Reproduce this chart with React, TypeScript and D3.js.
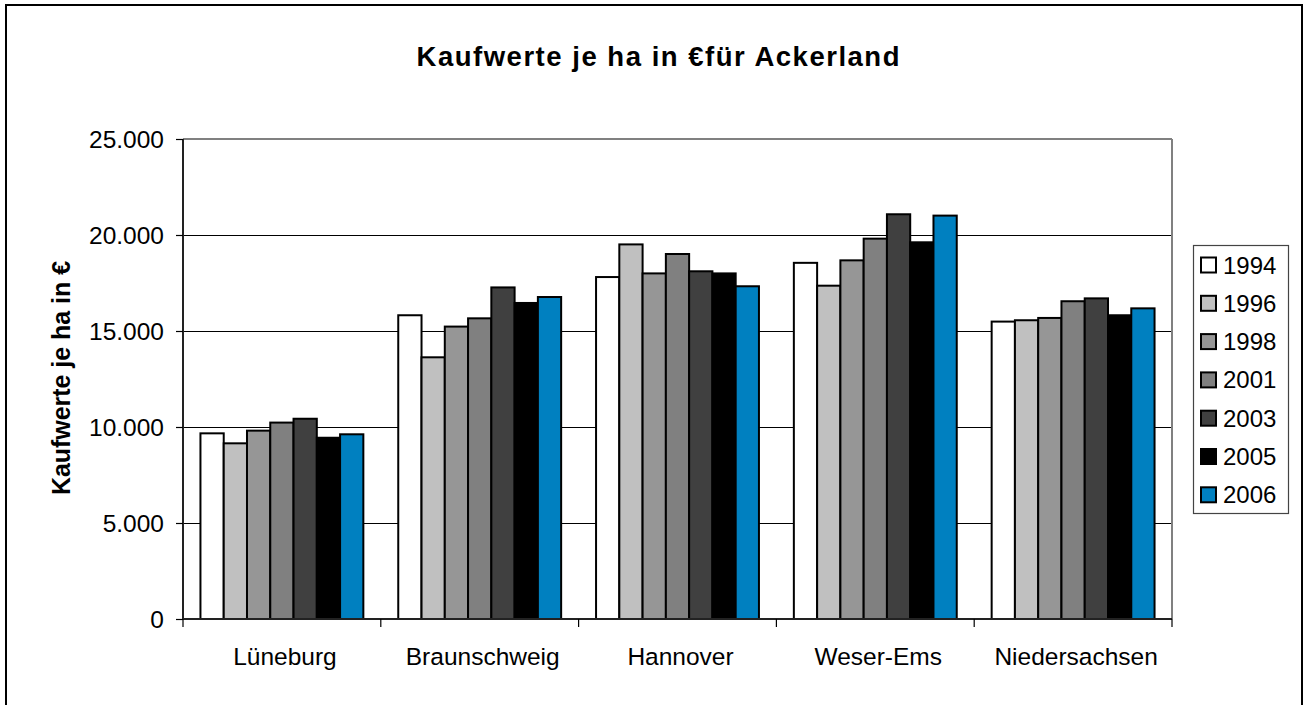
import React from 'react';
import * as d3 from 'd3';

const categories = ['Lüneburg', 'Braunschweig', 'Hannover', 'Weser-Ems', 'Niedersachsen'];
const years = ['1994', '1996', '1998', '2001', '2003', '2005', '2006'];

const values1994 = [9670, 15820, 17810, 18550, 15490];
const values1996 = [9150, 13630, 19510, 17360, 15560];
const values1998 = [9810, 15230, 18000, 18680, 15680];
const values2001 = [10230, 15660, 19010, 19810, 16550];
const values2003 = [10430, 17270, 18110, 21080, 16700];
const values2005 = [9440, 16460, 18000, 19620, 15820];
const values2006 = [9620, 16770, 17330, 21010, 16180];

const yTicks = [0, 5000, 10000, 15000, 20000, 25000];
const colors = ['#FFFFFF', '#C0C0C0', '#969696', '#808080', '#404040', '#000000', '#0080C0'];

const title = 'Kaufwerte je ha in €für Ackerland';
const yLabel = 'Kaufwerte je ha in €';

const series = [values1994, values1996, values1998, values2001, values2003, values2005, values2006];

const W = 1309;
const H = 705;
const left = 183;
const right = 1172;
const top = 139;
const bottom = 619;
const font = '"Liberation Sans", Arial, sans-serif';

const de = d3.formatLocale({ decimal: ',', thousands: '.', grouping: [3], currency: ['', ' €'] });
const fmt = de.format(',');

const App = () => {
  const x = d3.scaleBand().domain(categories).range([left, right]).padding(0);
  const xInner = d3.scaleBand().domain(years).range([0, x.bandwidth()]).paddingInner(0).paddingOuter(0.75);
  const y = d3.scaleLinear().domain([0, 25000]).range([bottom, top]);

  const legendTop = 265;
  const legendStep = 38.3;

  return (
    <svg width={W} height={H} style={{ position: 'absolute', left: 0, top: 0, background: '#fff' }} fontFamily={font}>
      <rect x={6} y={5} width={1296} height={H} fill="#fff" stroke="#000" strokeWidth={2} />

      <text x={658} y={66} textAnchor="middle" fontSize={27.5} fontWeight="bold" textLength={483} lengthAdjust="spacing">
        {title}
      </text>

      {/* grid */}
      {yTicks.filter(t => t > 0 && t < 25000).map(t => (
        <line key={t} x1={left} x2={right} y1={y(t) + 0.5} y2={y(t) + 0.5} stroke="#000" strokeWidth={1.2} />
      ))}

      {/* plot border top / right */}
      <line x1={left} x2={right} y1={top} y2={top} stroke="#808080" strokeWidth={2} />
      <line x1={right} x2={right} y1={top} y2={bottom} stroke="#808080" strokeWidth={2} />

      {/* bars */}
      {categories.map((c, ci) => (
        <g key={c} transform={`translate(${x(c)},0)`}>
          {years.map((yr, si) => {
            const v = series[si][ci];
            return (
              <rect
                key={yr}
                x={xInner(yr)}
                y={y(v)}
                width={xInner.bandwidth()}
                height={y(0) - y(v)}
                fill={colors[si]}
                stroke="#000"
                strokeWidth={2}
              />
            );
          })}
        </g>
      ))}

      {/* y axis */}
      <line x1={left} x2={left} y1={top} y2={bottom} stroke="#222" strokeWidth={2} />
      {yTicks.map(t => (
        <g key={t}>
          <line x1={left - 7} x2={left} y1={y(t) + 0.5} y2={y(t) + 0.5} stroke="#000" strokeWidth={1.2} />
          <text x={164} y={y(t) + 8.5} textAnchor="end" fontSize={24.5}>
            {fmt(t)}
          </text>
        </g>
      ))}

      {/* x axis */}
      <line x1={left} x2={right} y1={bottom} y2={bottom} stroke="#222" strokeWidth={2} />
      {[...categories.map(c => x(c) as number), right].map((p, i) => (
        <line key={i} x1={p} x2={p} y1={bottom} y2={bottom + 8} stroke="#000" strokeWidth={1.2} />
      ))}
      {categories.map(c => (
        <text key={c} x={(x(c) as number) + x.bandwidth() / 2 + 3} y={665} textAnchor="middle" fontSize={24.5}>
          {c}
        </text>
      ))}

      <text
        transform={`translate(70,378) rotate(-90)`}
        textAnchor="middle"
        fontSize={25}
        fontWeight="bold"
        textLength={234}
        lengthAdjust="spacingAndGlyphs"
      >
        {yLabel}
      </text>

      {/* legend */}
      <rect x={1193.5} y={245.5} width={95} height={268} fill="#fff" stroke="#444" strokeWidth={1.2} />
      {years.map((yr, i) => {
        const cy = legendTop + i * legendStep;
        return (
          <g key={yr}>
            <rect x={1201} y={cy - 7.5} width={15} height={15} fill={colors[i]} stroke="#000" strokeWidth={2} />
            <text x={1223} y={cy + 8.5} fontSize={24}>
              {yr}
            </text>
          </g>
        );
      })}
    </svg>
  );
};

export default App;
